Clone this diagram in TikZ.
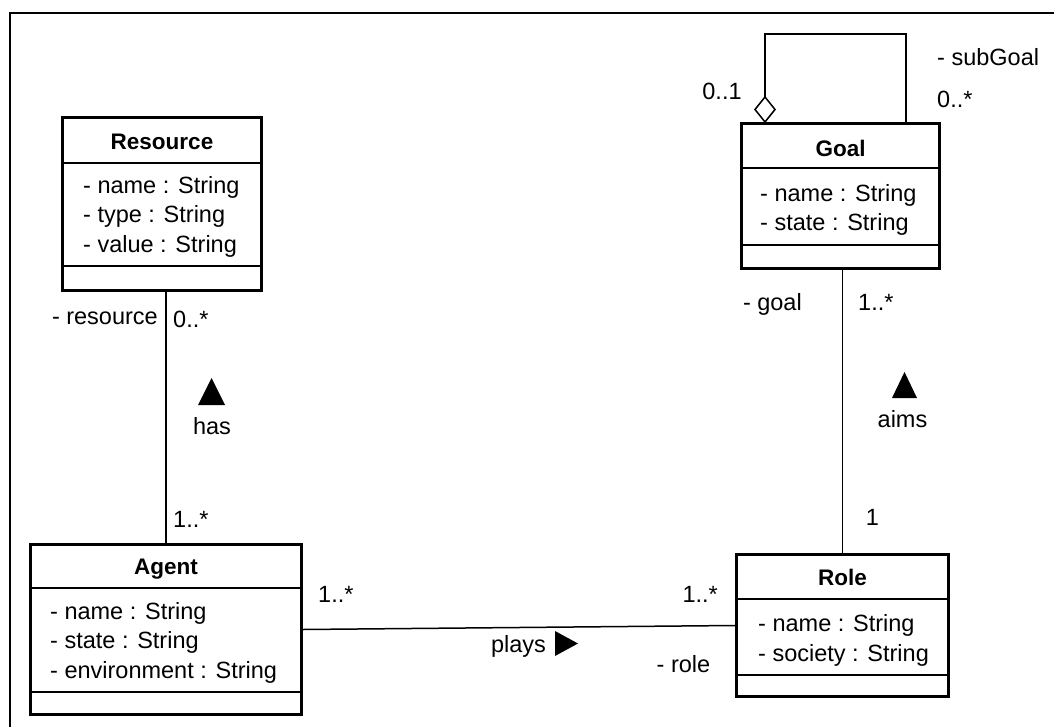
\documentclass[tikz,border=0pt]{standalone}
\usepackage{fontspec}
\setmainfont{Liberation Sans}
\usetikzlibrary{arrows.meta,calc}
\begin{document}
\begin{tikzpicture}[x=1pt,y=-1pt,
  classbox/.style={draw, line width=3pt, inner sep=0pt, anchor=north west},
  sepline/.style={line width=1.6pt},
  conn/.style={line width=1.5pt},
  title/.style={font=\fontsize{22.5}{27}\selectfont\bfseries, inner sep=0pt, anchor=mid, yshift=-5pt},
  attr/.style={font=\fontsize{23.5}{28}\selectfont, inner sep=0pt, anchor=mid west, yshift=-5pt},
  lbl/.style={font=\fontsize{23.5}{28}\selectfont, inner sep=0pt, anchor=mid, yshift=-5pt},
  tri/.style={fill=black}]
\useasboundingbox (0,0) rectangle (1054,727);
% outer frame
\draw[line width=2pt] (10,740) |- (1070,13);

% Resource
\node[classbox, minimum width=199pt, minimum height=173pt] (res) at (61,116) {};
\draw[sepline] ($(res.north west)+(0,47)$) -- ($(res.north east)+(0,47)$);
\draw[sepline] ($(res.north west)+(0,150)$) -- ($(res.north east)+(0,150)$);
\node[title] (resT) at ($(res.north)+(0,26)$) {Resource};
\node[attr] (resA1) at (83,186) {- name : String};
\node[attr] (resA2) at (83,215) {- type : String};
\node[attr] (resA3) at (83,245) {- value : String};

% Goal
\node[classbox, minimum width=198pt, minimum height=145pt] (goal) at (740,122) {};
\draw[sepline] ($(goal.north west)+(0,46)$) -- ($(goal.north east)+(0,46)$);
\draw[sepline] ($(goal.north west)+(0,123)$) -- ($(goal.north east)+(0,123)$);
\node[title] (goalT) at ($(goal.north)+(0,27)$) {Goal};
\node[attr] (goalA1) at (760,194) {- name : String};
\node[attr] (goalA2) at (760,223) {- state : String};

% Agent
\node[classbox, minimum width=271pt, minimum height=170pt] (agent) at (29,543) {};
\draw[sepline] ($(agent.north west)+(0,45)$) -- ($(agent.north east)+(0,45)$);
\draw[sepline] ($(agent.north west)+(0,149)$) -- ($(agent.north east)+(0,149)$);
\node[title] (agentT) at ($(agent.north)+(0,24)$) {Agent};
\node[attr] (agentA1) at (50,612) {- name : String};
\node[attr] (agentA2) at (50,641) {- state : String};
\node[attr] (agentA3) at (50,670.5) {- environment : String};

% Role
\node[classbox, minimum width=212pt, minimum height=142pt] (role) at (735,553) {};
\draw[sepline] ($(role.north west)+(0,46)$) -- ($(role.north east)+(0,46)$);
\draw[sepline] ($(role.north west)+(0,122)$) -- ($(role.north east)+(0,122)$);
\node[title] (roleT) at ($(role.north)+(0,25)$) {Role};
\node[attr] (roleA1) at (758,624) {- name : String};
\node[attr] (roleA2) at (758,654) {- society : String};

% connectors
\draw[conn] (res.south -| agent.north) -- (agent.north);
\draw[conn] (goal.south -| role.north) -- (role.north);
\draw[conn] (agent.east) -- (role.west);
% self-association with open aggregation diamond
\coordinate (dBot) at ($(goal.north west)+(25,0)$);
\coordinate (dTop) at ($(dBot)+(0,-25)$);
\draw[conn, fill=white, line join=miter] (dBot) -- ++(-10,-12.5) -- (dTop) -- ++(10,12.5) -- cycle;
\draw[conn] (dTop) -- ++(0,-63) -| ($(goal.north west)+(166,0)$);

% has
\node[lbl, anchor=mid east] (lres) at (158,317) {- resource};
\node[lbl, anchor=mid west] (lres2) at (173,320) {0..*};
\fill[tri] (198,405) -- (225,405) -- (211.5,378) -- cycle;
\node[lbl] (lhas) at (212,427) {has};
\node[lbl, anchor=mid west] (lag1) at (173,520) {1..*};

% aims
\node[lbl, anchor=mid east] (lgoal) at (802,303) {- goal};
\node[lbl, anchor=mid west] (lgoal2) at (858,303) {1..*};
\fill[tri] (892,398) -- (917,398) -- (904.5,372) -- cycle;
\node[lbl] (laims) at (902.5,420) {aims};
\node[lbl] (lrole1) at (872.5,518) {1};

% subGoal
\node[lbl] (lsub1) at (722,92) {0..1};
\node[lbl, anchor=mid west] (lsub2) at (937,58) {- subGoal};
\node[lbl, anchor=mid west] (lsub3) at (937,100) {0..*};

% plays
\node[lbl, anchor=mid west] (lpl1) at (318,595) {1..*};
\node[lbl, anchor=mid east] (lpl2) at (718,595) {1..*};
\node[lbl] (lplays) at (518.5,645) {plays};
\fill[tri] (555,631) -- (555,656) -- (578,643.5) -- cycle;
\node[lbl] (lrole) at (683.5,665) {- role};
\end{tikzpicture}
\end{document}
